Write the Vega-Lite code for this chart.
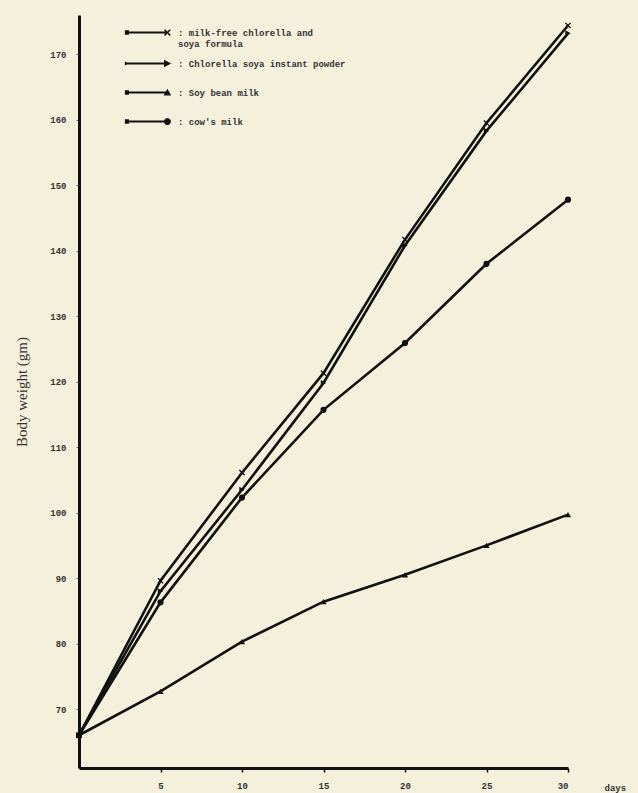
{
  "$schema": "https://vega.github.io/schema/vega-lite/v6.json",
  "width": 489,
  "height": 753,
  "autosize": {"type": "none"},
  "padding": {"left": 79, "top": 15, "right": 70, "bottom": 25},
  "background": "#f5f0dc",
  "config": {"view": {"stroke": null}, "font": "Liberation Mono"},
  "data": {
    "values": [
      {"day": 0, "weight": 66, "series": "milk-free chlorella and soya formula"},
      {"day": 5, "weight": 89.6, "series": "milk-free chlorella and soya formula"},
      {"day": 10, "weight": 106.1, "series": "milk-free chlorella and soya formula"},
      {"day": 15, "weight": 121.3, "series": "milk-free chlorella and soya formula"},
      {"day": 20, "weight": 141.7, "series": "milk-free chlorella and soya formula"},
      {"day": 25, "weight": 159.5, "series": "milk-free chlorella and soya formula"},
      {"day": 30, "weight": 174.4, "series": "milk-free chlorella and soya formula"},
      {"day": 0, "weight": 66, "series": "Chlorella soya instant powder"},
      {"day": 5, "weight": 88.0, "series": "Chlorella soya instant powder"},
      {"day": 10, "weight": 103.5, "series": "Chlorella soya instant powder"},
      {"day": 15, "weight": 119.8, "series": "Chlorella soya instant powder"},
      {"day": 20, "weight": 140.8, "series": "Chlorella soya instant powder"},
      {"day": 25, "weight": 158.3, "series": "Chlorella soya instant powder"},
      {"day": 30, "weight": 173.2, "series": "Chlorella soya instant powder"},
      {"day": 0, "weight": 66, "series": "cow's milk"},
      {"day": 5, "weight": 86.3, "series": "cow's milk"},
      {"day": 10, "weight": 102.3, "series": "cow's milk"},
      {"day": 15, "weight": 115.7, "series": "cow's milk"},
      {"day": 20, "weight": 125.9, "series": "cow's milk"},
      {"day": 25, "weight": 138.0, "series": "cow's milk"},
      {"day": 30, "weight": 147.8, "series": "cow's milk"},
      {"day": 0, "weight": 66, "series": "Soy bean milk"},
      {"day": 5, "weight": 72.7, "series": "Soy bean milk"},
      {"day": 10, "weight": 80.3, "series": "Soy bean milk"},
      {"day": 15, "weight": 86.4, "series": "Soy bean milk"},
      {"day": 20, "weight": 90.5, "series": "Soy bean milk"},
      {"day": 25, "weight": 95.0, "series": "Soy bean milk"},
      {"day": 30, "weight": 99.7, "series": "Soy bean milk"}
    ]
  },
  "resolve": {"scale": {"shape": "independent"}, "legend": {"shape": "independent"}},
  "layer": [
    {
      "mark": {"type": "line", "color": "#111111", "strokeWidth": 2.6},
      "encoding": {
        "x": {
          "field": "day",
          "type": "quantitative",
          "scale": {"domain": [0, 30], "nice": false},
          "axis": {
            "values": [5, 10, 15, 20, 25, 30],
            "grid": false,
            "domainColor": "#111111",
            "domainWidth": 3,
            "tickColor": "#111111",
            "tickSize": 4,
            "tickWidth": 1.5,
            "labelFont": "Liberation Mono",
            "labelFontSize": 9,
            "labelFontWeight": "bold",
            "labelColor": "#333333",
            "labelPadding": 9,
            "title": "days",
            "titleFont": "Liberation Mono",
            "titleFontSize": 9,
            "titleFontWeight": "bold",
            "titleColor": "#333333",
            "titleX": 525,
            "titleY": 22,
            "titleAlign": "left",
            "titleBaseline": "alphabetic"
          }
        },
        "y": {
          "field": "weight",
          "type": "quantitative",
          "scale": {"domain": [61, 176], "nice": false, "zero": false},
          "axis": {
            "values": [70, 80, 90, 100, 110, 120, 130, 140, 150, 160, 170],
            "grid": false,
            "domainColor": "#111111",
            "domainWidth": 3,
            "tickColor": "#666666",
            "tickSize": 3,
            "tickWidth": 1,
            "labelFont": "Liberation Mono",
            "labelFontSize": 9,
            "labelFontWeight": "bold",
            "labelColor": "#333333",
            "labelPadding": 10,
            "title": "Body weight (gm)",
            "titleFont": "Liberation Serif",
            "titleFontSize": 15,
            "titleFontWeight": "normal",
            "titleColor": "#333333",
            "titlePadding": 20
          }
        },
        "detail": {"field": "series"}
      }
    },
    {
      "mark": {"type": "point", "filled": true, "color": "#111111", "opacity": 1, "size": 38},
      "encoding": {
        "x": {"field": "day", "type": "quantitative"},
        "y": {"field": "weight", "type": "quantitative"},
        "shape": {
          "field": "series",
          "type": "nominal",
          "scale": {
            "domain": ["milk-free chlorella and soya formula", "Chlorella soya instant powder", "Soy bean milk", "cow's milk"],
            "range": ["M-1,-0.7L-0.7,-1L0,-0.3L0.7,-1L1,-0.7L0.3,0L1,0.7L0.7,1L0,0.3L-0.7,1L-1,0.7L-0.3,0Z", "triangle-right", "triangle-up", "circle"]
          },
          "legend": null
        }
      }
    },
    {
      "mark": {"type": "point", "filled": true, "color": "#111111", "size": 0},
      "encoding": {
        "x": {"field": "day", "type": "quantitative"},
        "y": {"field": "weight", "type": "quantitative"},
        "shape": {
          "field": "series",
          "type": "nominal",
          "scale": {
            "domain": ["milk-free chlorella and soya formula", "Chlorella soya instant powder", "Soy bean milk", "cow's milk"],
            "range": [
              "M0,-1.06L0,-1.06ZM0,1.06L0,1.06ZM-1.6,-0.08L1.3,-0.08L1.3,0.08L-1.6,0.08ZM-1.75,-0.17L-1.45,-0.17L-1.45,0.17L-1.75,0.17ZM1.15,-0.17L1.23,-0.25L1.4,-0.08L1.57,-0.25L1.65,-0.17L1.48,0L1.65,0.17L1.57,0.25L1.4,0.08L1.23,0.25L1.15,0.17L1.32,0Z",
              "M0,-1.06L0,-1.06ZM0,1.06L0,1.06ZM-1.6,-0.08L1.3,-0.08L1.3,0.08L-1.6,0.08ZM-1.75,-0.15L-1.45,0L-1.75,0.15ZM1.15,-0.28L1.68,0L1.15,0.28Z",
              "M0,-1.06L0,-1.06ZM0,1.06L0,1.06ZM-1.6,-0.08L1.3,-0.08L1.3,0.08L-1.6,0.08ZM-1.75,-0.17L-1.45,-0.17L-1.45,0.17L-1.75,0.17ZM1.12,0.22L1.4,-0.28L1.68,0.22Z",
              "M0,-1.06L0,-1.06ZM0,1.06L0,1.06ZM-1.6,-0.08L1.3,-0.08L1.3,0.08L-1.6,0.08ZM-1.75,-0.17L-1.45,-0.17L-1.45,0.17L-1.75,0.17ZM1.3,-0.25L1.5,-0.25L1.65,-0.1L1.65,0.1L1.5,0.25L1.3,0.25L1.15,0.1L1.15,-0.1Z"
            ]
          },
          "legend": {
            "orient": "none",
            "legendX": 56,
            "legendY": 4,
            "padding": 0,
            "title": null,
            "symbolFillColor": "#111111",
            "symbolStrokeColor": "#111111",
            "symbolStrokeWidth": 0,
            "symbolOpacity": 1,
            "symbolSize": 729,
            "labelFont": "Liberation Mono",
            "labelFontSize": 9,
            "labelFontWeight": "bold",
            "labelColor": "#333333",
            "labelOffset": 16,
            "labelLimit": 400,
            "rowPadding": 0,
            "labelExpr": "datum.label == 'milk-free chlorella and soya formula' ? [': milk-free chlorella and', '\u00a0\u00a0\u00a0soya formula'] : ': ' + datum.label"
          }
        }
      }
    }
  ]
}
